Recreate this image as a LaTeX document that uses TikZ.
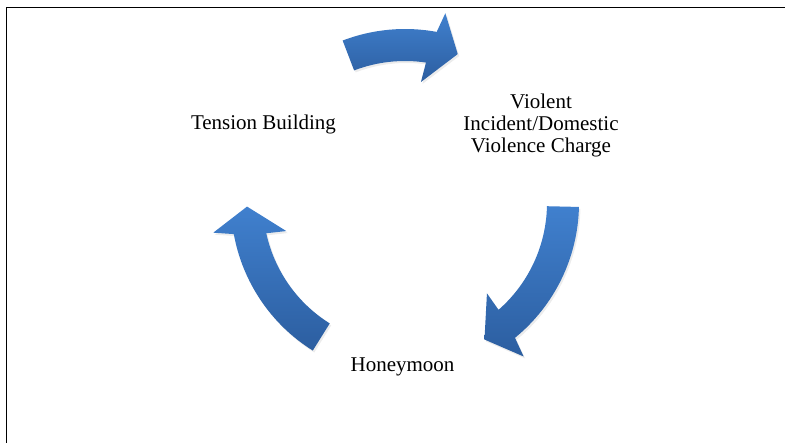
\documentclass[tikz,border=0pt]{standalone}
\usepackage{fontspec}
\setmainfont{Liberation Serif}
\newfontfamily\timesfont{Liberation Serif}
\usetikzlibrary{shadows}
\definecolor{arrtop}{RGB}{64,128,206}
\definecolor{arrbot}{RGB}{44,94,160}
\tikzset{
  cyclearrow/.style={top color=arrtop, bottom color=arrbot, draw=none,
    drop shadow={opacity=0.15, shadow xshift=1.5pt, shadow yshift=-2pt}},
  stagelabel/.style={font=\timesfont\fontsize{21}{22}\selectfont, inner sep=0pt, align=center, anchor=base},
  frameline/.style={line width=1.6pt, black}
}
\newcommand{\CycArrow}[2]{%
  \pgfmathsetmacro{\aoj}{#2+9}%
  \pgfmathsetmacro{\aob}{#2+7.5}%
  \pgfmathsetmacro{\aib}{#2+12}%
  \pgfmathsetmacro{\aij}{#2+11}%
  \path[cyclearrow] ([shift={(C)}]#1:174) arc[start angle=#1, end angle=\aoj, radius=174pt]
    -- ([shift={(C)}]\aob:194) -- ([shift={(C)}]#2:158) -- ([shift={(C)}]\aib:122)
    -- ([shift={(C)}]\aij:142) arc[start angle=\aij, end angle=#1, radius=142pt] -- cycle;
}
\begin{document}
\begin{tikzpicture}[x=1pt,y=1pt]
\useasboundingbox (0,0) rectangle (785,443);
\coordinate (C) at (405,240);
\coordinate (fbl) at (6.5,0);
\coordinate (ftl) at (6.5,435.5);
\coordinate (ftr) at (785,435.5);
\draw[frameline] (fbl) -- (ftl) -- (ftr);
\CycArrow{111}{70.5}
\CycArrow{-1.3}{-59.8}
\CycArrow{238}{181.3}
\node[stagelabel] (tension) at (263.5,313) {Tension Building};
\node[stagelabel] (violent) at (541,290) {Violent\\Incident/Domestic\\Violence Charge};
\node[stagelabel] (honey) at (402.5,71) {Honeymoon};
\end{tikzpicture}
\end{document}
